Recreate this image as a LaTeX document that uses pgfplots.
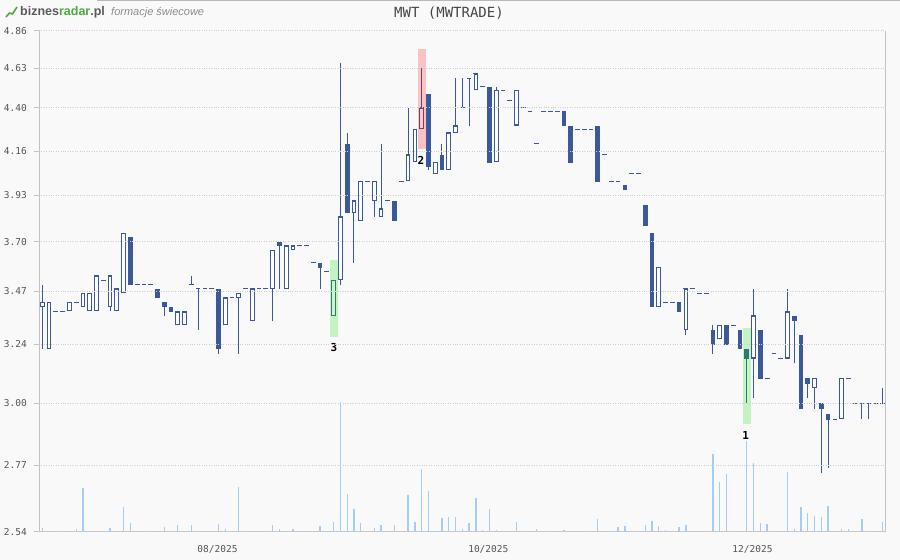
\documentclass[border=0pt]{standalone}
\usepackage{pgfplots}
\pgfplotsset{compat=1.18}
\usepackage{pgfplotstable}
\usepackage{fontspec}
\setmainfont{Liberation Sans}
\newfontfamily\monofont{DejaVu Sans Mono}
\definecolor{cblue}{RGB}{59,89,152}
\definecolor{vblue}{RGB}{160,205,250}
\definecolor{bgc}{RGB}{249,249,249}
\definecolor{gridc}{RGB}{205,205,205}
\definecolor{axc}{RGB}{195,195,195}
\definecolor{topc}{RGB}{185,185,185}
\definecolor{txtc}{RGB}{85,85,85}
\definecolor{titc}{RGB}{70,70,70}
\definecolor{subc}{RGB}{140,140,140}
\definecolor{logog}{RGB}{77,170,60}
\definecolor{logod}{RGB}{90,90,90}
\definecolor{hgreen}{RGB}{0,230,0}
\definecolor{hred}{RGB}{255,0,0}

% i = trading-day index, o h l c = open high low close (PLN)
\pgfplotstableread{
i o h l c
0 3.40 3.50 3.22 3.42
1 3.22 3.42 3.22 3.42
2 3.38 3.38 3.38 3.38
3 3.38 3.38 3.38 3.38
4 3.38 3.42 3.38 3.42
5 3.42 3.42 3.42 3.42
6 3.40 3.46 3.40 3.46
7 3.38 3.46 3.38 3.46
8 3.38 3.54 3.38 3.54
9 3.52 3.52 3.52 3.52
10 3.40 3.54 3.38 3.54
11 3.38 3.48 3.38 3.48
12 3.46 3.74 3.46 3.74
13 3.72 3.72 3.50 3.50
14 3.50 3.50 3.50 3.50
15 3.50 3.50 3.50 3.50
16 3.50 3.50 3.50 3.50
17 3.48 3.48 3.44 3.44
18 3.42 3.42 3.36 3.40
19 3.40 3.40 3.38 3.38
20 3.32 3.38 3.32 3.38
21 3.32 3.38 3.32 3.38
22 3.50 3.54 3.50 3.50
23 3.48 3.48 3.30 3.48
24 3.48 3.48 3.48 3.48
25 3.48 3.48 3.48 3.48
26 3.48 3.48 3.20 3.22
27 3.32 3.44 3.32 3.44
28 3.44 3.44 3.44 3.44
29 3.44 3.46 3.20 3.46
30 3.48 3.48 3.48 3.48
31 3.34 3.48 3.34 3.48
32 3.48 3.48 3.48 3.48
33 3.48 3.48 3.48 3.48
34 3.48 3.66 3.34 3.66
35 3.70 3.70 3.48 3.68
36 3.48 3.68 3.48 3.68
37 3.66 3.68 3.66 3.68
38 3.68 3.68 3.68 3.68
39 3.68 3.68 3.68 3.68
40 3.60 3.60 3.60 3.60
41 3.60 3.60 3.48 3.58
42 3.56 3.56 3.56 3.56
43 3.36 3.52 3.36 3.52
44 3.52 4.66 3.50 3.82
45 4.20 4.26 3.84 3.84
46 3.84 3.90 3.60 3.90
47 3.80 4.00 3.80 4.00
48 4.00 4.00 4.00 4.00
49 3.90 4.00 3.82 4.00
50 3.82 4.20 3.82 3.86
51 3.90 3.90 3.90 3.90
52 3.90 3.90 3.80 3.80
53 4.00 4.00 4.00 4.00
54 4.00 4.40 4.00 4.14
55 4.10 4.28 4.10 4.28
56 4.28 4.63 4.28 4.40
57 4.48 4.48 4.06 4.08
58 4.04 4.10 4.04 4.10
59 4.14 4.20 4.06 4.06
60 4.06 4.26 4.06 4.26
61 4.26 4.57 4.26 4.30
62 4.40 4.57 4.40 4.40
63 4.57 4.57 4.30 4.57
64 4.50 4.60 4.50 4.60
65 4.52 4.52 4.52 4.52
66 4.52 4.52 4.10 4.10
67 4.10 4.52 4.10 4.50
68 4.50 4.50 4.50 4.50
69 4.44 4.44 4.44 4.44
70 4.30 4.50 4.30 4.50
71 4.40 4.40 4.40 4.40
72 4.38 4.38 4.38 4.38
73 4.20 4.20 4.20 4.20
74 4.38 4.38 4.38 4.38
75 4.38 4.38 4.38 4.38
76 4.38 4.38 4.38 4.38
77 4.38 4.38 4.30 4.30
78 4.30 4.30 4.10 4.10
79 4.28 4.28 4.28 4.28
80 4.28 4.28 4.28 4.28
81 4.28 4.28 4.28 4.28
82 4.30 4.30 4.00 4.00
83 4.14 4.14 4.14 4.14
84 4.00 4.00 4.00 4.00
85 4.00 4.00 4.00 4.00
86 3.98 3.98 3.96 3.96
87 4.04 4.04 4.04 4.04
88 4.04 4.04 4.04 4.04
89 3.88 3.88 3.78 3.78
90 3.74 3.74 3.40 3.40
91 3.40 3.58 3.40 3.58
92 3.42 3.42 3.42 3.42
93 3.42 3.42 3.42 3.42
94 3.42 3.42 3.38 3.38
95 3.30 3.48 3.28 3.48
96 3.48 3.48 3.48 3.48
97 3.46 3.46 3.46 3.46
98 3.46 3.46 3.46 3.46
99 3.30 3.32 3.20 3.24
100 3.26 3.32 3.26 3.32
101 3.32 3.32 3.24 3.24
102 3.32 3.32 3.32 3.32
103 3.30 3.30 3.22 3.22
104 3.22 3.22 3.00 3.18
105 3.18 3.48 3.02 3.36
106 3.30 3.30 3.10 3.10
107 3.10 3.10 3.10 3.10
108 3.20 3.20 3.20 3.20
109 3.18 3.18 3.18 3.18
110 3.18 3.48 3.18 3.38
111 3.36 3.36 3.16 3.34
112 3.28 3.28 2.98 2.98
113 3.10 3.10 3.02 3.08
114 3.06 3.10 2.98 3.10
115 3.00 3.00 2.74 2.98
116 2.96 2.96 2.76 2.94
117 2.94 2.94 2.94 2.94
118 2.94 3.10 2.94 3.10
119 3.10 3.10 3.10 3.10
120 3.00 3.00 3.00 3.00
121 3.00 3.00 2.94 3.00
122 3.00 3.00 2.94 3.00
123 3.00 3.00 3.00 3.00
124 3.00 3.06 3.00 3.00
}\candles

% volume (relative bar heights)
\pgfplotstableread{
i v
0 4.3
5 3.3
6 44.3
7 1.3
10 4.3
11 1.3
12 25.3
13 9.3
18 5.3
20 7.3
22 7.3
26 8.3
27 3.3
29 45.3
34 7.3
35 3.3
36 1.3
37 3.3
41 6.3
43 10.3
44 130
45 38.3
46 23.3
47 9.3
49 4.3
50 7.3
52 7.3
54 37.3
55 10.3
56 63.3
57 41.3
58 1.3
59 14.3
60 15.3
61 15.3
62 3.3
63 9.3
64 34.3
65 2.3
66 23.3
67 2.3
70 10.3
73 3.3
77 2.3
78 1.3
79 1.3
82 13.3
85 5.3
86 6.3
89 7.3
90 11.3
91 6.3
92 2.3
94 5.3
95 7.3
99 78.3
100 50.3
101 58.3
102 1.3
104 91.3
105 69.3
106 9.3
107 8.3
110 60.3
111 3.3
112 25.3
113 19.3
114 16.3
115 15.3
116 26.3
118 3.3
119 3.3
120 1.3
121 13.3
124 10.3
}\volumes

\pgfplotsset{
  chartbox/.style={
    at={(39bp,28bp)}, anchor=south west,
    scale only axis, width=846bp, height=501bp,
    xmin=-0.49, xmax=124.40,
  },
  candle/.style={only marks, mark=*, mark options={opacity=0, draw opacity=0, fill opacity=0},
    mark size=0.1pt, forget plot,
    error bars/error mark=none},
}

\begin{document}
\begin{tikzpicture}
\useasboundingbox (0,0) rectangle (900bp,560bp);
\fill[bgc] (0,0) rectangle (900bp,560bp);
\draw[topc, line width=1bp] (97bp,559.5bp) -- (900bp,559.5bp);

% volume
\begin{axis}[chartbox, ymin=0, ymax=501, hide axis]
\addplot[ycomb, vblue, line width=1.3bp, mark=none] table[x=i, y=v] {\volumes};
\end{axis}

% prices
\begin{axis}[chartbox,
  ymode=log, ymin=2.54, ymax=4.86,
  clip=false,
  axis line style={draw=none},
  axis on top,
  ytick={2.54,2.77,3.00,3.24,3.47,3.70,3.93,4.16,4.40,4.63,4.86},
  yticklabels={2.54,2.77,3.00,3.24,3.47,3.70,3.93,4.16,4.40,4.63,4.86},
  xtick={25.86,65.84,104.84},
  xticklabels={08/2025,10/2025,12/2025},
  minor tick style={draw=none},
  ymajorgrids, major grid style={gridc, dotted, line width=1bp},
  tick align=outside, major tick length=5bp,
  xtick pos=bottom, ytick pos=left,
  xtick style={draw=none},
  ytick style={axc, line width=1bp},
  tick label style={font=\monofont\fontsize{9.5bp}{11bp}\selectfont, text=txtc, inner sep=0pt},
  yticklabel style={anchor=east, xshift=-7bp},
  xticklabel style={anchor=center, yshift=-12bp},
]
\draw[axc, line width=1bp] (rel axis cs:0,1) -- (rel axis cs:0,0) -- (rel axis cs:1,0) -- (rel axis cs:1,1);

% wicks
\addplot[candle, error bars/y dir=plus, error bars/y explicit,
  error bars/error bar style={line width=1bp, cblue}]
  table[x=i, y=l, y error plus expr={\thisrow{h}-\thisrow{l}}] {\candles};
% flat days / body caps
\addplot[candle, error bars/x dir=both, error bars/x fixed=0.35,
  error bars/error bar style={line width=1bp, cblue}]
  table[x=i, y=c] {\candles};
% bodies
\addplot[candle, error bars/y dir=plus, error bars/y explicit,
  error bars/error bar style={line width=4.7bp, cblue}]
  table[x=i, y expr={min(\thisrow{o},\thisrow{c})}, y error plus expr={abs(\thisrow{c}-\thisrow{o})}] {\candles};
% hollow (rising) bodies
\addplot[candle, restrict expr to domain={\thisrow{c}-\thisrow{o}}{0.005:10},
  error bars/y dir=plus, error bars/y explicit,
  error bars/error bar style={line width=2.7bp, white}]
  table[x=i, y expr={\thisrow{o}*1.0014}, y error plus expr={\thisrow{c}*0.9986-\thisrow{o}*1.0014}] {\candles};

% pattern highlights
\fill[hgreen, fill opacity=0.22] (axis cs:42.47,3.613) rectangle (axis cs:43.61,3.271);
\fill[hred, fill opacity=0.22] (axis cs:55.46,4.748) rectangle (axis cs:56.64,4.171);
\fill[hgreen, fill opacity=0.22] (axis cs:103.43,3.308) rectangle (axis cs:104.61,2.9216);
\node[font=\monofont\bfseries\fontsize{11bp}{12bp}\selectfont] at (axis cs:43.05,3.2247) {3};
\node[font=\monofont\bfseries\fontsize{11bp}{12bp}\selectfont] at (axis cs:55.90,4.112) {2};
\node[font=\monofont\bfseries\fontsize{11bp}{12bp}\selectfont] at (axis cs:103.84,2.880) {1};
\end{axis}

% header
\node[font=\monofont\fontsize{14bp}{15bp}\selectfont, text=titc] at (449bp,547.2bp) {MWT (MWTRADE)};
\draw[logog, line width=1.6bp, line join=round] (6bp,543bp) -- (9.5bp,547bp) -- (12.5bp,546bp) -- (17bp,553bp);
\node[anchor=west, inner sep=0pt, font=\bfseries\fontsize{12.5bp}{13bp}\selectfont] at (20bp,548bp)
  {\textcolor{logod}{biznes}\textcolor{logog}{radar}\textcolor{logod}{.pl}};
\node[anchor=west, inner sep=0pt, font=\itshape\fontsize{11bp}{12bp}\selectfont, text=subc] at (111bp,547bp) {formacje świecowe};
\end{tikzpicture}
\end{document}
